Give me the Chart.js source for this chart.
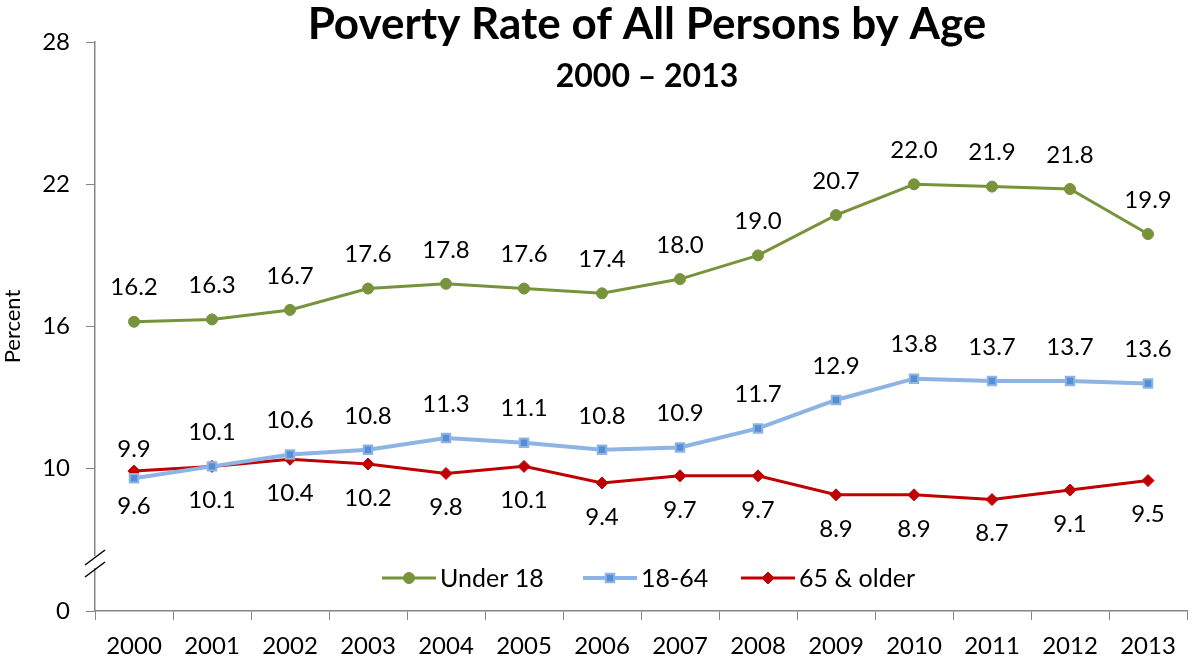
<!DOCTYPE html>
<html>
<head>
<meta charset="utf-8">
<script src="https://cdn.jsdelivr.net/npm/chart.js@4.4.1/dist/chart.umd.min.js"></script>
<style>
  html, body { margin: 0; padding: 0; background: #fff; }
  #wrap { width: 1195px; height: 662px; position: relative; }
</style>
</head>
<body>
<div id="wrap"><canvas id="canvaPobreza" width="1195" height="662"></canvas></div>
<script>
// datos
const anios = ['2000','2001','2002','2003','2004','2005','2006','2007','2008','2009','2010','2011','2012','2013'];
const menores18 = [16.2, 16.3, 16.7, 17.6, 17.8, 17.6, 17.4, 18.0, 19.0, 20.7, 22.0, 21.9, 21.8, 19.9];
const adultos = [9.6, 10.1, 10.6, 10.8, 11.3, 11.1, 10.8, 10.9, 11.7, 12.9, 13.8, 13.7, 13.7, 13.6];
const mayores65 = [9.9, 10.1, 10.4, 10.2, 9.8, 10.1, 9.4, 9.7, 9.7, 8.9, 8.9, 8.7, 9.1, 9.5];
const etiquetasSeries = ['Under 18', '18-64', '65 & older'];
// el eje esta cortado: la marca "0" ocupa el lugar del 4
const ticksY = [4, 10, 16, 22, 28];
const ticksTexto = ['0', '10', '16', '22', '28'];

const fuente = 'Lato, "Open Sans", sans-serif';
Chart.defaults.font.family = fuente;
Chart.defaults.color = '#000';

// etiquetas de valor: arriba o abajo segun la serie
const posEtiquetas = [
    menores18.map(() => -34),
    adultos.map((v, i) => i === 0 ? 28 : -34),
    mayores65.map((v, i) => i === 0 ? -22 : 34)
];

const pluginEtiquetas = {
    id: 'etiquetas',
    afterDatasetsDraw(chart) {
        const ctx = chart.ctx;
        ctx.save();
        ctx.font = '24px ' + fuente;
        ctx.fillStyle = '#000';
        ctx.textAlign = 'center';
        ctx.textBaseline = 'middle';
        chart.data.datasets.forEach((ds, d) => {
            chart.getDatasetMeta(d).data.forEach((p, i) => {
                ctx.fillText(ds.data[i].toFixed(1), p.x, p.y + posEtiquetas[d][i]);
            });
        });
        ctx.restore();
    }
};

const pluginDecorado = {
    id: 'decorado',
    afterDraw(chart) {
        const ctx = chart.ctx;
        const area = chart.chartArea;
        ctx.save();
        // titulo
        ctx.fillStyle = '#000';
        ctx.textAlign = 'center';
        ctx.textBaseline = 'alphabetic';
        ctx.font = 'bold 44px ' + fuente;
        ctx.fillText('Poverty Rate of All Persons by Age', 647, 39);
        ctx.font = 'bold 32px ' + fuente;
        ctx.fillText('2000 \u2013 2013', 647, 87);
        // corte del eje
        ctx.fillStyle = '#fff';
        ctx.fillRect(area.left - 3, 556, 6, 12);
        ctx.strokeStyle = '#000';
        ctx.lineWidth = 1.5;
        ctx.beginPath();
        ctx.moveTo(85, 565); ctx.lineTo(105, 550);
        ctx.moveTo(85, 577); ctx.lineTo(105, 562);
        ctx.stroke();
        // leyenda
        const items = chart.data.datasets;
        const xs = [382, 583, 741];
        const y = 578;
        ctx.font = '25px ' + fuente;
        ctx.textAlign = 'left';
        ctx.textBaseline = 'middle';
        items.forEach((ds, i) => {
            const x0 = xs[i];
            ctx.strokeStyle = ds.borderColor;
            ctx.lineWidth = ds.borderWidth;
            ctx.beginPath();
            ctx.moveTo(x0, y); ctx.lineTo(x0 + 54, y);
            ctx.stroke();
            ctx.fillStyle = ds.pointBackgroundColor;
            ctx.strokeStyle = ds.pointBorderColor;
            ctx.lineWidth = ds.pointBorderWidth;
            Chart.helpers.drawPoint(ctx, {
                pointStyle: ds.pointStyle,
                radius: ds.pointRadius,
                borderWidth: ds.pointBorderWidth
            }, x0 + 27, y);
            ctx.fillStyle = '#000';
            ctx.fillText(etiquetasSeries[i], x0 + 58, y + 1);
        });
        ctx.restore();
    }
};

const canvas = document.getElementById('canvaPobreza').getContext('2d');
new Chart(canvas, {
    type: 'line',
    data: {
        labels: anios,
        datasets: [{
            label: etiquetasSeries[0],
            data: menores18,
            borderColor: '#77933C',
            borderWidth: 3,
            pointStyle: 'circle',
            pointRadius: 5.5,
            pointBackgroundColor: '#77933C',
            pointBorderColor: '#77933C',
            pointBorderWidth: 1
        }, {
            label: etiquetasSeries[1],
            data: adultos,
            borderColor: '#8EB4E3',
            borderWidth: 4,
            pointStyle: 'rect',
            pointRadius: 6,
            pointBackgroundColor: '#558ED5',
            pointBorderColor: '#8EB4E3',
            pointBorderWidth: 2
        }, {
            label: etiquetasSeries[2],
            data: mayores65,
            borderColor: '#C00000',
            borderWidth: 3,
            pointStyle: 'rectRot',
            pointRadius: 6,
            pointBackgroundColor: '#C00000',
            pointBorderColor: '#C00000',
            pointBorderWidth: 1
        }]
    },
    options: {
        responsive: false,
        animation: false,
        layout: { padding: { top: 42, right: 1, left: 0, bottom: 0 } },
        plugins: {
            legend: { display: false },
            tooltip: { enabled: false }
        },
        scales: {
            x: {
                offset: true,
                grid: { offset: true, drawOnChartArea: false, tickLength: 9, color: '#868686' },
                border: { color: '#868686', width: 1.5 },
                ticks: { font: { size: 24 }, color: '#000', padding: 12, maxRotation: 0, autoSkip: false },
                afterFit(s) { s.height = 51; }
            },
            y: {
                min: 4,
                max: 28,
                afterBuildTicks(s) { s.ticks = ticksY.map(v => ({ value: v })); },
                grid: { drawOnChartArea: false, tickLength: 9, color: '#868686' },
                border: { color: '#868686', width: 1.5 },
                ticks: {
                    font: { size: 24 },
                    color: '#000',
                    padding: 16,
                    callback: (v) => ticksTexto[ticksY.indexOf(v)]
                },
                title: { display: true, text: 'Percent', font: { size: 22 }, color: '#000', padding: 0 },
                afterFit(s) { s.width = 95; }
            }
        }
    },
    plugins: [pluginEtiquetas, pluginDecorado]
});
</script>
</body>
</html>
